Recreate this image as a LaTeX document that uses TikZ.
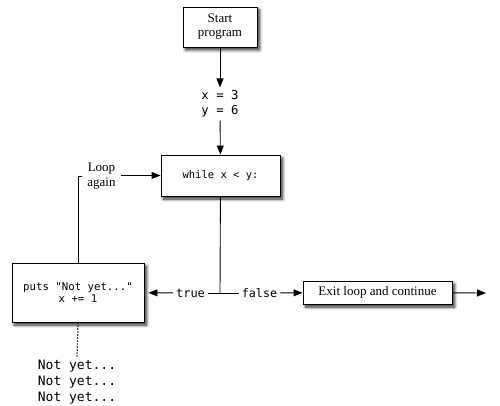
\documentclass[tikz,border=0pt]{standalone}
\usepackage{fontspec}
\setmainfont{Liberation Serif}
\setmonofont{DejaVu Sans Mono}
\usetikzlibrary{arrows.meta,shadows.blur}
\tikzset{
  box/.style={draw=black, line width=0.9pt, fill=white, rectangle, inner sep=2pt, align=center,
    blur shadow={shadow xshift=2.5pt, shadow yshift=-3pt, shadow blur steps=8, shadow blur radius=3pt, shadow opacity=85}},
  lbl/.style={inner sep=3pt, align=center},
  conn/.style={line width=0.9pt},
  arr/.style={conn, -{Triangle[length=9pt,width=7pt]}},
}
\begin{document}
\begin{tikzpicture}[x=1pt,y=-1pt]
\useasboundingbox (0,0) rectangle (500,406);
\node[box, minimum width=74pt, minimum height=40pt, font=\fontsize{13}{14}\selectfont] (start) at (220,27) {Start\\program};
\node[lbl, font=\ttfamily\fontsize{12.3}{15}\selectfont] (init) at (220,104) {x = 3\\y = 6};
\node[box, minimum width=119pt, minimum height=41pt, font=\ttfamily\fontsize{10.5}{12}\selectfont] (while) at (220.5,175.5) {while x < y:};
\node[box, minimum width=132pt, minimum height=59pt, font=\ttfamily\fontsize{10.7}{12.5}\selectfont] (puts) at (78,292.5) {puts "Not yet..."\\x += 1};
\node[box, minimum width=149pt, minimum height=23pt, font=\fontsize{13}{14}\selectfont] (exit) at (377.5,292.5) {Exit loop and continue};
\node[lbl, font=\ttfamily\fontsize{12}{14}\selectfont] (true) at (190.5,293) {true};
\node[lbl, font=\ttfamily\fontsize{11.7}{14}\selectfont] (false) at (259.5,293) {false};
\node[lbl, inner sep=5pt, font=\fontsize{13}{15}\selectfont] (loop) at (101.5,176) {Loop\\again};
\node[lbl, font=\ttfamily\fontsize{13}{16}\selectfont] (notyet) at (77,382) {Not yet...\\Not yet...\\Not yet...};
\coordinate (j) at (220,293);
\coordinate (exitend) at (486,293);

\draw[arr] (start) -- (init);
\draw[arr] (init) -- (while);
\draw[conn] (while) -- (j);
\draw[conn] (true) -- (false);
\draw[arr, shorten >=4pt] (true) -- (puts);
\draw[arr] (false) -- (exit);
\draw[arr] (exit) -- (exitend);
\draw[conn] (puts.north) |- (loop.west);
\draw[arr] (loop.east |- while.west) -- (while.west);
\draw[line width=1.2pt, dash pattern=on 1.3pt off 1.7pt] (puts.south) -- (notyet.north);
\end{tikzpicture}
\end{document}
